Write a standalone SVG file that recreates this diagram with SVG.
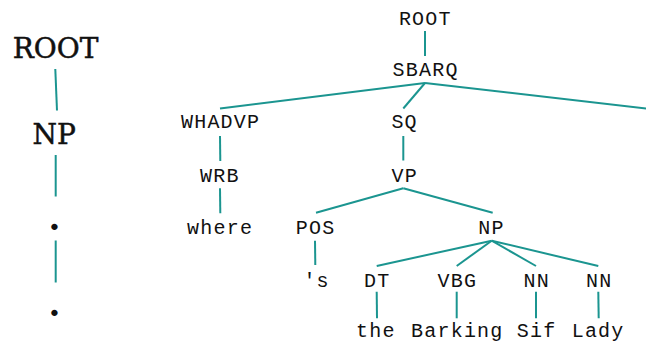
<svg xmlns="http://www.w3.org/2000/svg" width="646" height="344" viewBox="0 0 646 344">
<style>
.big{font-family:"DejaVu Serif","Liberation Serif",serif;font-size:28px;fill:#111;stroke:#111;stroke-width:0.5;text-anchor:middle}
.dot{font-family:"DejaVu Serif","Liberation Serif",serif;font-size:34px;font-weight:bold;fill:#111;text-anchor:middle}
.m{font-family:"Liberation Mono","Courier New",monospace;font-size:20px;letter-spacing:1.2px;fill:#111;text-anchor:middle}
.e{stroke:#1b9590;stroke-width:2;fill:none;stroke-linecap:butt}
</style>
<rect width="646" height="344" fill="#fff"/>
<g id="connectors">
<line class="e" x1="55.3" y1="69" x2="57" y2="110.5"/>
<line class="e" x1="55.7" y1="155" x2="55.7" y2="196.5"/>
<line class="e" x1="55.7" y1="240.5" x2="55.7" y2="282.5"/>
<line class="e" x1="425" y1="31" x2="425" y2="56"/>
<line class="e" x1="425" y1="83" x2="220" y2="108.5"/>
<line class="e" x1="425" y1="83" x2="403.3" y2="108.5"/>
<line class="e" x1="425" y1="83" x2="648" y2="108.8"/>
<line class="e" x1="220" y1="136" x2="220.3" y2="161"/>
<line class="e" x1="220" y1="188.3" x2="220.3" y2="213.3"/>
<line class="e" x1="403.3" y1="136" x2="403.3" y2="160.5"/>
<line class="e" x1="403.3" y1="188.3" x2="316" y2="212.7"/>
<line class="e" x1="403.3" y1="188.3" x2="492.7" y2="212.7"/>
<line class="e" x1="315" y1="240.7" x2="315.3" y2="265"/>
<line class="e" x1="491.7" y1="240.7" x2="376.7" y2="266"/>
<line class="e" x1="491.7" y1="240.7" x2="456.7" y2="266"/>
<line class="e" x1="491.7" y1="240.7" x2="536" y2="266"/>
<line class="e" x1="491.7" y1="240.7" x2="598.3" y2="266"/>
<line class="e" x1="376.7" y1="291.7" x2="377" y2="318.3"/>
<line class="e" x1="456.7" y1="291.7" x2="456.7" y2="318.3"/>
<line class="e" x1="536" y1="291.7" x2="536" y2="318.3"/>
<line class="e" x1="598.3" y1="291.7" x2="598.7" y2="318.3"/>
</g>
<g id="l-root"><text class="big" x="55.5" y="58.3">ROOT</text></g>
<g id="l-np"><text class="big" x="54.2" y="144.3">NP</text></g>
<g id="l-dot1"><text class="dot" x="54.3" y="230">.</text></g>
<g id="l-dot2"><text class="dot" x="54.3" y="315.6">.</text></g>
<g id="r-root"><text class="m" x="425.3" y="24.5">ROOT</text></g>
<g id="r-sbarq"><text class="m" x="425.6" y="76.3">SBARQ</text></g>
<g id="r-whadvp"><text class="m" x="220.6" y="128.3">WHADVP</text></g>
<g id="r-sq"><text class="m" x="404.6" y="128.3">SQ</text></g>
<g id="r-wrb"><text class="m" x="219.8" y="181.5">WRB</text></g>
<g id="r-where"><text class="m" x="220.1" y="234">where</text></g>
<g id="r-vp"><text class="m" x="404.8" y="181.5">VP</text></g>
<g id="r-pos"><text class="m" x="315.6" y="234">POS</text></g>
<g id="r-np"><text class="m" x="491.4" y="234">NP</text></g>
<g id="r-s"><text class="m" x="316.6" y="286.5">'s</text></g>
<g id="r-dt"><text class="m" x="377.3" y="286.5">DT</text></g>
<g id="r-vbg"><text class="m" x="457.3" y="286.5">VBG</text></g>
<g id="r-nn1"><text class="m" x="536.8" y="286.5">NN</text></g>
<g id="r-nn2"><text class="m" x="599.3" y="286.5">NN</text></g>
<g id="r-the"><text class="m" x="375.9" y="337">the</text></g>
<g id="r-barking"><text class="m" x="457.3" y="337">Barking</text></g>
<g id="r-sif"><text class="m" x="536.6" y="337">Sif</text></g>
<g id="r-lady"><text class="m" x="598.1" y="337">Lady</text></g>
</svg>
